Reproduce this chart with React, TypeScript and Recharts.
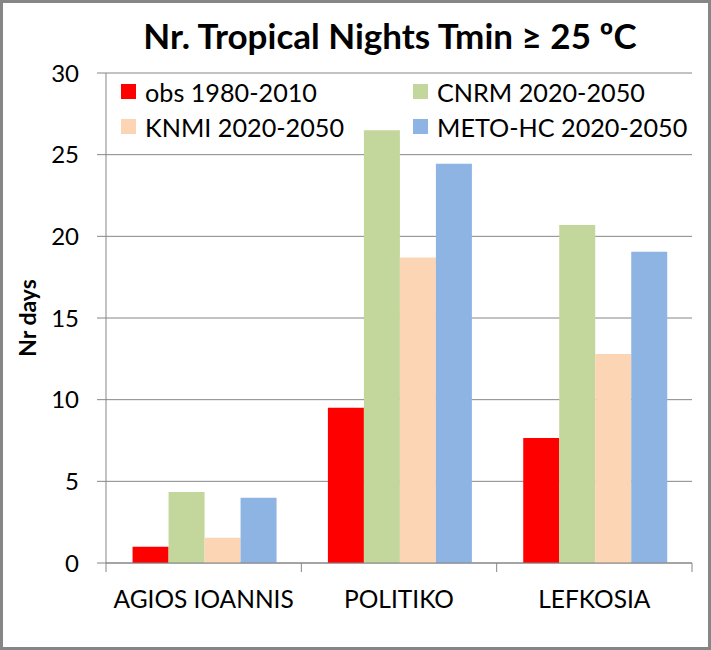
import { Bar, BarChart, CartesianGrid, XAxis, YAxis } from 'recharts'

const stations = ['AGIOS IOANNIS', 'POLITIKO', 'LEFKOSIA']
const obs = [1.0, 9.5, 7.65]
const cnrm = [4.35, 26.5, 20.7]
const knmi = [1.55, 18.7, 12.8]
const meto = [4.0, 24.45, 19.05]
const yTicks = [0, 5, 10, 15, 20, 25, 30]

const series = [
    { key: 'obs', name: 'obs 1980-2010', color: '#FF0000' },
    { key: 'cnrm', name: 'CNRM 2020-2050', color: '#C3D69B' },
    { key: 'knmi', name: 'KNMI 2020-2050', color: '#FCD5B5' },
    { key: 'meto', name: 'METO-HC 2020-2050', color: '#8EB4E3' },
]

const data = stations.map((name, i) => ({
    name,
    obs: obs[i],
    cnrm: cnrm[i],
    knmi: knmi[i],
    meto: meto[i],
}))

const FONT = 'Lato, "Noto Sans", sans-serif'
const GREY = '#868686'

// excel puts the x tick marks on the category edges, not in the middle
const StationTick = (props: any) => {
    const { x, y, payload, index } = props
    const half = payload.offset || 0
    const last = index === stations.length - 1
    return (
        <g>
            <line x1={x - half} x2={x - half} y1={y - 9} y2={y} stroke={GREY} />
            {last && <line x1={x + half} x2={x + half} y1={y - 9} y2={y} stroke={GREY} />}
            <text x={x} y={y + 36} textAnchor="middle" fontSize={24.5} fill="#000" fontFamily={FONT}>
                {payload.value}
            </text>
        </g>
    )
}

const LegendBox = () => (
    <div
        style={{
            position: 'absolute', left: 121, top: 79, display: 'grid', gridTemplateColumns: '292px 292px',
            rowGap: 10, fontFamily: FONT, fontSize: 25.2,
        }}
    >
        {series.map((s) => (
            <div key={s.key} style={{ display: 'flex', alignItems: 'center', height: 25 }}>
                <span style={{ width: 15, height: 15, background: s.color, marginRight: 9, display: 'inline-block' }} />
                <span style={{ color: '#000', whiteSpace: 'nowrap' }}>{s.name}</span>
            </div>
        ))}
    </div>
)

const App = () => {
    return (
        <div style={{ position: 'absolute', left: 0, top: 0, width: 711, height: 650, background: '#fff' }}>
            <BarChart
                width={711}
                height={650}
                data={data}
                margin={{ top: 73, right: 19, left: 0, bottom: 0 }}
                barCategoryGap="13.6%"
                barGap={0}
            >
                <CartesianGrid vertical={false} stroke={GREY} strokeWidth={1} />
                <XAxis
                    dataKey="name"
                    height={87}
                    axisLine={{ stroke: GREY }}
                    tickLine={false}
                    tickSize={9}
                    tickMargin={0}
                    tick={<StationTick />}
                    interval={0}
                />
                <YAxis
                    width={106}
                    domain={[0, 30]}
                    ticks={yTicks}
                    axisLine={{ stroke: GREY }}
                    tickLine={{ stroke: GREY }}
                    tickSize={9}
                    tickMargin={18}
                    tick={{ fill: '#000', fontSize: 24, fontFamily: FONT }}
                    label={{
                        content: (p: any) => {
                            const vb = p.viewBox || { x: 0, y: 73, width: 106, height: 490 }
                            const cx = vb.x + 27
                            const cy = vb.y + vb.height / 2
                            return (
                                <text x={cx} y={cy} transform={`rotate(-90 ${cx} ${cy})`} textAnchor="middle"
                                    dominantBaseline="central" fontFamily={FONT} fontWeight="bold" fontSize={23} fill="#000">
                                    Nr days
                                </text>
                            )
                        },
                    }}
                />
                {series.map((s) => (
                    <Bar key={s.key} dataKey={s.key} name={s.name} fill={s.color} isAnimationActive={false} />
                ))}
            </BarChart>
            <div
                style={{
                    position: 'absolute', left: 0, top: 14, width: 780, textAlign: 'center',
                    fontFamily: FONT, fontWeight: 'bold', fontSize: 35, color: '#000',
                }}
            >
                Nr. Tropical Nights Tmin ≥ 25 ºC
            </div>
            <LegendBox />
            <div style={{ position: 'absolute', left: 0, top: 0, width: 711, height: 650, boxSizing: 'border-box', border: `3px solid ${GREY}`, pointerEvents: 'none' }} />
        </div>
    )
}

export default App
